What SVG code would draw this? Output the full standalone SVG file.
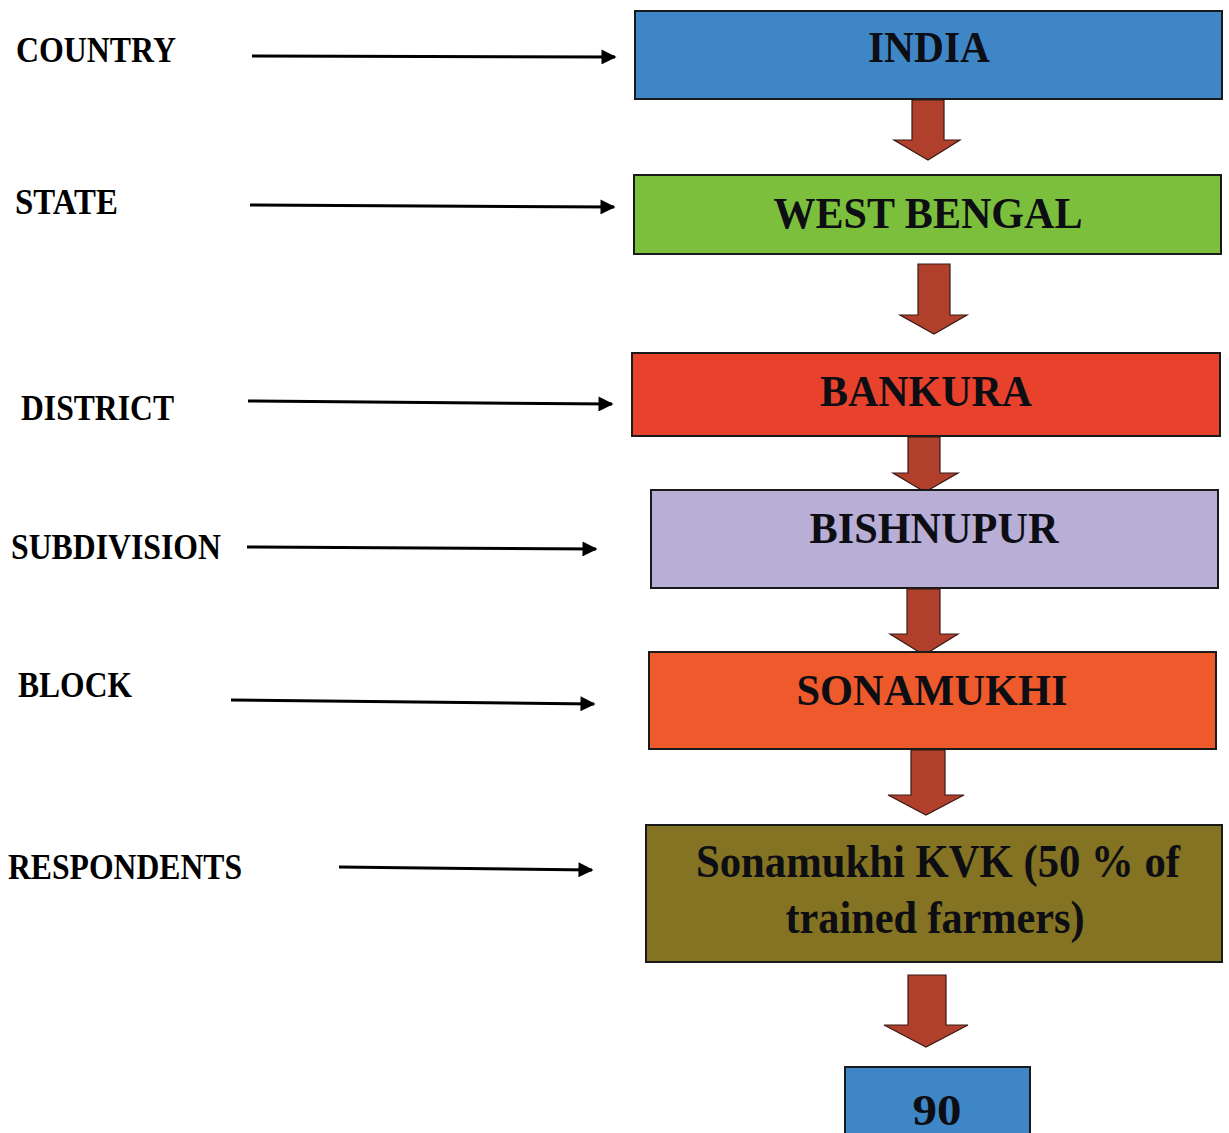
<svg xmlns="http://www.w3.org/2000/svg" width="1229" height="1133" viewBox="0 0 1229 1133">
<defs>
<style>
.lbl{font-family:"Liberation Serif","Times New Roman",serif;font-weight:bold;font-size:35px;fill:#000}
.bt{font-family:"Liberation Serif","Times New Roman",serif;font-weight:bold;font-size:44px;fill:#0d0d14;text-anchor:middle}
.kv{font-size:46px}
.box{stroke:#1a1a1a;stroke-width:2}
.ptr{stroke:#000;stroke-width:3;fill:none}
.down{fill:#b0402c;stroke:#3a1a14;stroke-width:1.2}
</style>
<marker id="ah" viewBox="0 0 10 10" refX="9" refY="5" markerWidth="5.5" markerHeight="5" orient="auto" markerUnits="strokeWidth">
<path d="M0,0 L10,5 L0,10 Z" fill="#000"/>
</marker>
</defs>
<rect width="1229" height="1133" fill="#fff"/>

<g id="labels">
<text class="lbl" x="16" y="62" textLength="160" lengthAdjust="spacingAndGlyphs">COUNTRY</text>
<text class="lbl" x="15" y="214" textLength="103" lengthAdjust="spacingAndGlyphs">STATE</text>
<text class="lbl" x="21" y="420" textLength="153" lengthAdjust="spacingAndGlyphs">DISTRICT</text>
<text class="lbl" x="11" y="559" textLength="210" lengthAdjust="spacingAndGlyphs">SUBDIVISION</text>
<text class="lbl" x="18" y="697" textLength="114" lengthAdjust="spacingAndGlyphs">BLOCK</text>
<text class="lbl" x="8" y="879" textLength="234" lengthAdjust="spacingAndGlyphs">RESPONDENTS</text>
</g>

<g id="connectors">
<line class="ptr" x1="252" y1="56" x2="615" y2="57" marker-end="url(#ah)"/>
<line class="ptr" x1="250" y1="205" x2="614" y2="207" marker-end="url(#ah)"/>
<line class="ptr" x1="248" y1="401" x2="612" y2="404" marker-end="url(#ah)"/>
<line class="ptr" x1="247" y1="547" x2="596" y2="549" marker-end="url(#ah)"/>
<line class="ptr" x1="231" y1="700" x2="594" y2="704" marker-end="url(#ah)"/>
<line class="ptr" x1="339" y1="867" x2="592" y2="870" marker-end="url(#ah)"/>
<path class="down" d="M912,100 L944,100 L944,140 L960,140 L928,160 L894,140 L912,140 Z"/>
<path class="down" d="M918,264 L950,264 L950,315 L967,315 L934,334 L900,315 L918,315 Z"/>
<path class="down" d="M908,437 L940,437 L940,473 L958,473 L925,492 L893,473 L908,473 Z"/>
<path class="down" d="M907,589 L940,589 L940,634 L958,634 L924,655 L890,634 L907,634 Z"/>
<path class="down" d="M911,750 L945,750 L945,795 L964,795 L926,815 L888,795 L911,795 Z"/>
<path class="down" d="M908,975 L946,975 L946,1025 L968,1025 L926,1047 L884,1025 L908,1025 Z"/>
</g>

<g id="india">
<rect class="box" x="635" y="11" width="587" height="88" fill="#3f86c7"/>
<text class="bt" x="929" y="62" textLength="122" lengthAdjust="spacingAndGlyphs">INDIA</text>
</g>
<g id="west-bengal">
<rect class="box" x="634" y="175" width="587" height="79" fill="#7cbf3c"/>
<text class="bt" x="928" y="228" textLength="309" lengthAdjust="spacingAndGlyphs">WEST BENGAL</text>
</g>
<g id="bankura">
<rect class="box" x="632" y="353" width="588" height="83" fill="#e8422c"/>
<text class="bt" x="926" y="406" textLength="212" lengthAdjust="spacingAndGlyphs">BANKURA</text>
</g>
<g id="bishnupur">
<rect class="box" x="651" y="490" width="567" height="98" fill="#b8aed6"/>
<text class="bt" x="934" y="543" textLength="249" lengthAdjust="spacingAndGlyphs">BISHNUPUR</text>
</g>
<g id="sonamukhi">
<rect class="box" x="649" y="652" width="567" height="97" fill="#ee5a2b"/>
<text class="bt" x="932" y="705" textLength="271" lengthAdjust="spacingAndGlyphs">SONAMUKHI</text>
</g>
<g id="kvk">
<rect class="box" x="646" y="825" width="576" height="137" fill="#837322"/>
<text class="bt kv" x="938" y="877" textLength="484" lengthAdjust="spacingAndGlyphs">Sonamukhi KVK (50 % of</text>
<text class="bt kv" x="935" y="933" textLength="299" lengthAdjust="spacingAndGlyphs">trained farmers)</text>
</g>
<g id="n90">
<rect class="box" x="845" y="1067" width="185" height="70" fill="#3f86c7"/>
<text class="bt" x="937" y="1125" font-size="50" textLength="49" lengthAdjust="spacingAndGlyphs">90</text>
</g>
</svg>
